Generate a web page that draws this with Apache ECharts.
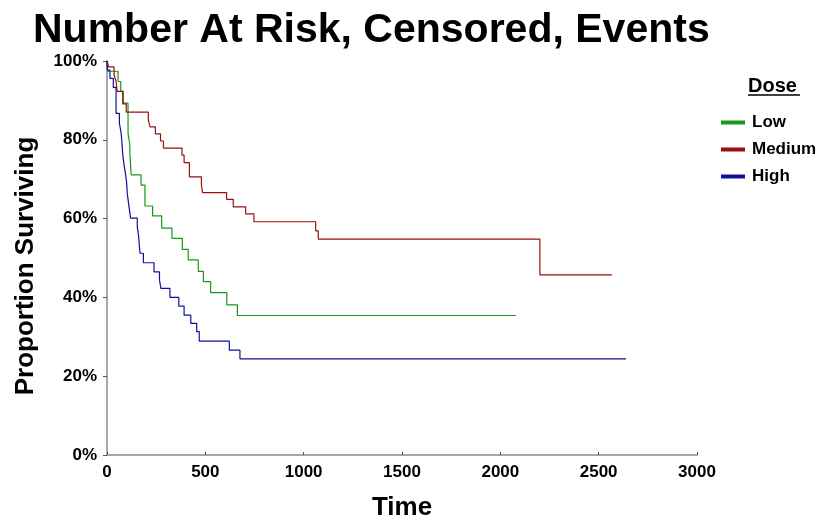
<!DOCTYPE html>
<html>
<head>
<meta charset="utf-8">
<script src="https://cdn.jsdelivr.net/npm/echarts@6.0.0/dist/echarts.min.js"></script>
<style>
  html, body { margin: 0; padding: 0; background: #fff; }
  #chart { width: 823px; height: 520px; }
</style>
</head>
<body>
<div id="chart"></div>
<script>
// Kaplan-Meier steps (time, % surviving)
const lowTime = [0, 3, 56, 70, 83, 107, 115, 117, 123, 173, 193, 232, 278, 330, 383, 413, 464, 490, 527, 609, 663, 2080]
const lowSurv = [100, 97.4, 94.8, 92.3, 89.3, 81.6, 79.1, 76.1, 71.1, 68.5, 63.2, 60.7, 57.6, 55.0, 52.2, 49.5, 46.6, 44.0, 41.2, 38.1, 35.4, 35.4]

const mediumTime = [0, 8, 36, 46, 52, 80, 98, 210, 219, 246, 272, 287, 381, 392, 419, 480, 486, 608, 642, 705, 747, 1061, 1074, 2201, 2567]
const mediumSurv = [100, 98.5, 96.5, 94.8, 92.3, 89.1, 87.0, 85.0, 83.3, 81.5, 79.7, 77.9, 76.1, 74.2, 70.6, 68.6, 66.6, 64.9, 63.0, 61.2, 59.2, 56.9, 54.8, 45.7, 45.7]

const highTime = [0, 2, 15, 32, 46, 63, 71, 75, 78, 81, 88, 95, 100, 103, 113, 120, 154, 161, 164, 168, 185, 239, 267, 274, 320, 365, 392, 426, 456, 469, 622, 676, 2639]
const highSurv = [100, 97.7, 95.6, 93.3, 86.7, 84.2, 82.0, 80.0, 77.8, 75.7, 73.2, 71.1, 69.0, 66.4, 62.6, 60.1, 57.9, 55.4, 53.3, 51.2, 48.8, 46.5, 44.4, 42.3, 40.0, 37.8, 35.5, 33.4, 31.3, 28.9, 26.6, 24.4, 24.4]

const groups = ["Low", "Medium", "High"]

const FONT = '"Liberation Sans", Arial, sans-serif'
const AXIS_GRAY = "#a8a8a8"
const GREEN = "#189818"
const RED = "#981010"
const BLUE = "#10109a"

function pairs(times, surv) {
    return times.map((t, i) => [t, surv[i]])
}

function makeSeries(name, times, surv, color) {
    return {
        name: name,
        type: "line",
        step: "end",
        data: pairs(times, surv),
        showSymbol: false,
        symbol: "none",
        animation: false,
        itemStyle: { color: color },
        lineStyle: { width: 1.2, color: color }
    }
}

const chart = echarts.init(document.getElementById("chart"))

const option = {
    animation: false,
    title: {
        text: "Number At Risk, Censored, Events",
        left: 28,
        top: 5,
        textStyle: {
            fontFamily: FONT,
            fontWeight: "bold",
            fontSize: 41,
            color: "#000"
        }
    },
    legend: {
        data: groups,
        orient: "vertical",
        left: 716,
        top: 109,
        itemWidth: 24,
        itemHeight: 4,
        itemGap: 10,
        icon: "rect",
        textStyle: {
            fontFamily: FONT,
            fontWeight: "bold",
            fontSize: 17,
            color: "#000",
            padding: [0, 0, 0, 2]
        }
    },
    graphic: [
        {
            type: "text",
            left: 748,
            top: 76,
            style: {
                text: "Dose",
                font: 'bold 20px "Liberation Sans", Arial, sans-serif',
                fill: "#000"
            }
        },
        {
            // underline of the legend heading
            type: "line",
            shape: { x1: 748, y1: 95, x2: 800, y2: 95 },
            style: { stroke: "#000", lineWidth: 1.5 }
        }
    ],
    grid: {
        left: 107,
        right: 126,
        top: 61,
        bottom: 65,
        containLabel: false,
        outerBoundsMode: "none"
    },
    xAxis: {
        type: "value",
        min: 0,
        max: 3000,
        interval: 500,
        name: "Time",
        nameLocation: "middle",
        nameGap: 40,
        nameTextStyle: {
            fontFamily: FONT,
            fontWeight: "bold",
            fontSize: 26,
            color: "#000"
        },
        axisLine: { show: true, lineStyle: { color: AXIS_GRAY, width: 2 } },
        axisTick: { show: true, inside: true, length: 3, lineStyle: { color: "#555", width: 1 } },
        splitLine: { show: false },
        axisLabel: {
            fontFamily: FONT,
            fontWeight: "bold",
            fontSize: 17,
            color: "#000",
            margin: 9,
            formatter: v => String(v)
        }
    },
    yAxis: {
        type: "value",
        min: 0,
        max: 100,
        interval: 20,
        name: "Proportion Surviving",
        nameLocation: "middle",
        nameGap: 68,
        nameRotate: 90,
        nameTextStyle: {
            fontFamily: FONT,
            fontWeight: "bold",
            fontSize: 26,
            color: "#000",
            padding: [0, 16, 0, 0]
        },
        axisLine: { show: true, lineStyle: { color: AXIS_GRAY, width: 2 } },
        axisTick: { show: true, inside: false, length: 4, lineStyle: { color: "#555", width: 1 } },
        splitLine: { show: false },
        axisLabel: {
            fontFamily: FONT,
            fontWeight: "bold",
            fontSize: 17,
            color: "#000",
            margin: 10,
            formatter: "{value}%"
        }
    },
    series: [
        makeSeries("Low", lowTime, lowSurv, GREEN),
        makeSeries("Medium", mediumTime, mediumSurv, RED),
        makeSeries("High", highTime, highSurv, BLUE)
    ]
}

chart.setOption(option)
</script>
</body>
</html>
